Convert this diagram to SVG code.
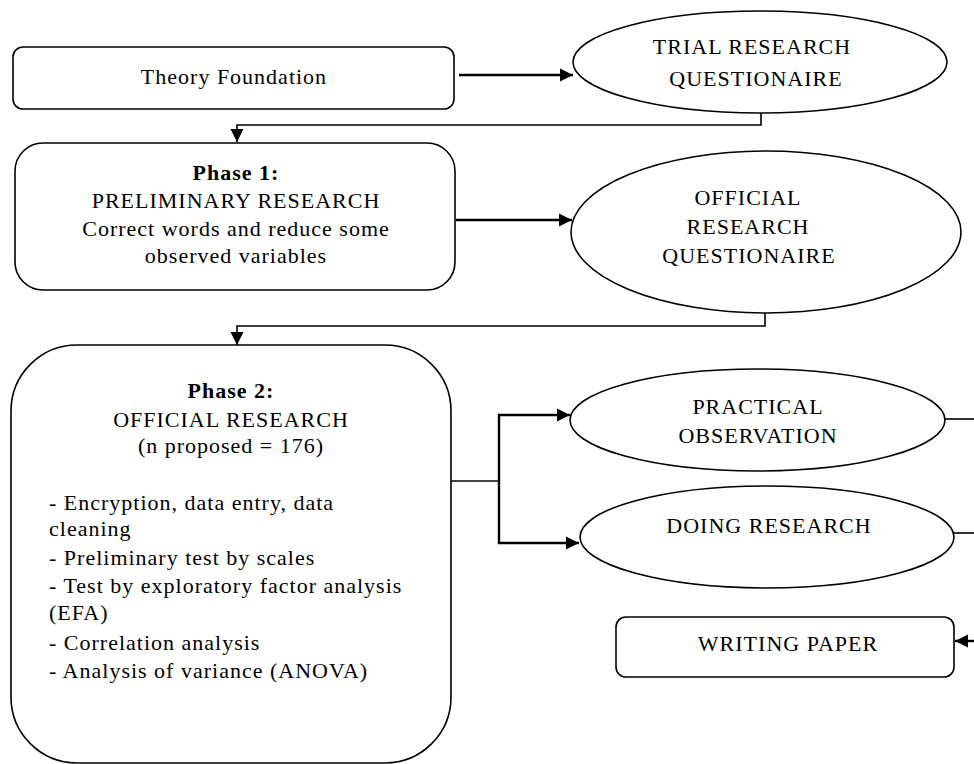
<svg xmlns="http://www.w3.org/2000/svg" width="974" height="764" viewBox="0 0 974 764">
<style>
.n{fill:#fff;stroke:#000;stroke-width:1.6}
.t{font-family:"Liberation Serif","Times New Roman",serif;font-size:22px;letter-spacing:1px;fill:#000}
.c{text-anchor:middle}
.b{font-weight:bold}
.w{fill:none;stroke:#000;stroke-width:1.6}
.k{fill:none;stroke:#000;stroke-width:2.4}
</style>
<defs>
<marker id="ah" markerUnits="userSpaceOnUse" markerWidth="14" markerHeight="14" viewBox="0 0 14 14" refX="13" refY="7" orient="auto">
<path d="M0,0.5 L13,7 L0,13.5 z" fill="#000"/>
</marker>
</defs>
<g id="theory">
<rect class="n" x="13" y="47" width="441" height="62" rx="10"/>
<text class="t c" x="234" y="84">Theory Foundation</text>
</g>
<g id="trial">
<ellipse class="n" cx="760" cy="62" rx="187" ry="51"/>
<text class="t c" x="752" y="54">TRIAL RESEARCH</text>
<text class="t c" x="756" y="86">QUESTIONAIRE</text>
</g>
<g id="phase1">
<rect class="n" x="15" y="143" width="440" height="147" rx="28"/>
<text class="t c b" x="236" y="180">Phase 1:</text>
<text class="t c" x="236" y="208">PRELIMINARY RESEARCH</text>
<text class="t c" x="236" y="236">Correct words and reduce some</text>
<text class="t c" x="236" y="263">observed variables</text>
</g>
<g id="official">
<ellipse class="n" cx="766" cy="232" rx="195" ry="81"/>
<text class="t c" x="748" y="205">OFFICIAL</text>
<text class="t c" x="748" y="234">RESEARCH</text>
<text class="t c" x="749" y="263">QUESTIONAIRE</text>
</g>
<g id="phase2">
<rect class="n" x="11" y="345" width="440" height="418" rx="66"/>
<text class="t c b" x="231" y="398">Phase 2:</text>
<text class="t c" x="231" y="427">OFFICIAL RESEARCH</text>
<text class="t c" x="231" y="453">(n proposed = 176)</text>
<text class="t" x="49" y="510">- Encryption, data entry, data</text>
<text class="t" x="49" y="536">cleaning</text>
<text class="t" x="49" y="565">- Preliminary test by scales</text>
<text class="t" x="49" y="593">- Test by exploratory factor analysis</text>
<text class="t" x="49" y="620">(EFA)</text>
<text class="t" x="49" y="650">- Correlation analysis</text>
<text class="t" x="49" y="678">- Analysis of variance (ANOVA)</text>
</g>
<g id="practical">
<ellipse class="n" cx="757.5" cy="420" rx="187.5" ry="51"/>
<text class="t c" x="758" y="414">PRACTICAL</text>
<text class="t c" x="758" y="443">OBSERVATION</text>
</g>
<g id="doing">
<ellipse class="n" cx="767" cy="537" rx="187" ry="51"/>
<text class="t c" x="769" y="533">DOING RESEARCH</text>
</g>
<g id="writing">
<rect class="n" x="616" y="617" width="338" height="60" rx="10"/>
<text class="t c" x="788" y="651">WRITING PAPER</text>
</g>
<g id="connectors">
<path class="k" d="M459,75 H573" marker-end="url(#ah)"/>
<path class="w" d="M761,113 V125 H237 V142" marker-end="url(#ah)"/>
<path class="k" d="M456,220 H572" marker-end="url(#ah)"/>
<path class="w" d="M765,313 V326 H237 V345" marker-end="url(#ah)"/>
<path class="w" d="M451,481 H499"/>
<path class="k" d="M499,481 V415 H570" marker-end="url(#ah)"/>
<path class="k" d="M499,481 V543 H579" marker-end="url(#ah)"/>
<path class="w" d="M945,419 H974"/>
<path class="w" d="M954,533 H974"/>
<path class="k" d="M974,641 H955" marker-end="url(#ah)"/>
</g>
</svg>
